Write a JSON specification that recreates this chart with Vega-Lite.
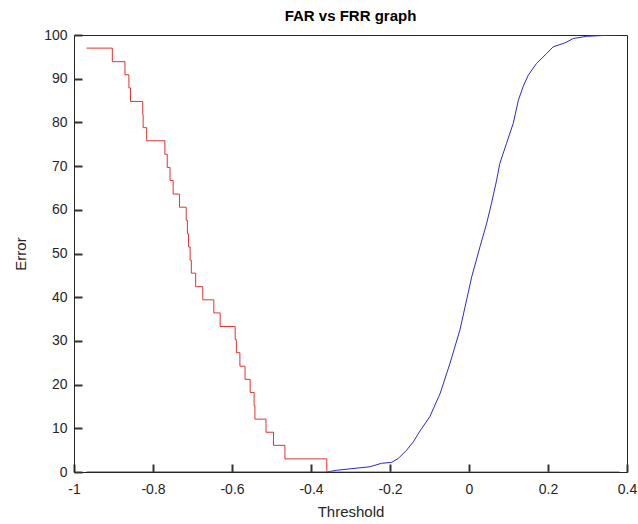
{
  "$schema": "https://vega.github.io/schema/vega-lite/v6.json",
  "width": 553,
  "height": 437,
  "autosize": {"type": "none"},
  "padding": {"left": 74, "top": 35, "right": 11, "bottom": 52},
  "background": "white",
  "config": {
    "font": "Liberation Sans",
    "view": {"stroke": "#262626", "strokeWidth": 1},
    "axis": {"grid": false, "domainColor": "#262626", "labelColor": "#262626", "titleColor": "#262626", "labelFont": "Liberation Sans", "titleFont": "Liberation Sans", "labelFontSize": 14, "titleFontSize": 15, "titleFontWeight": "normal"}
  },
  "title": {"text": "FAR vs FRR graph", "fontSize": 15, "fontWeight": "bold", "font": "Liberation Sans", "color": "#000000", "offset": 4},
  "data": {"values": [
    {"t": -0.968, "v": 97.0, "s": "FRR"},
    {"t": -0.903, "v": 93.9, "s": "FRR"},
    {"t": -0.871, "v": 90.9, "s": "FRR"},
    {"t": -0.861, "v": 87.9, "s": "FRR"},
    {"t": -0.857, "v": 84.8, "s": "FRR"},
    {"t": -0.826, "v": 81.8, "s": "FRR"},
    {"t": -0.825, "v": 78.8, "s": "FRR"},
    {"t": -0.816, "v": 75.8, "s": "FRR"},
    {"t": -0.770, "v": 72.7, "s": "FRR"},
    {"t": -0.764, "v": 69.7, "s": "FRR"},
    {"t": -0.757, "v": 66.7, "s": "FRR"},
    {"t": -0.749, "v": 63.6, "s": "FRR"},
    {"t": -0.733, "v": 60.6, "s": "FRR"},
    {"t": -0.716, "v": 57.6, "s": "FRR"},
    {"t": -0.713, "v": 54.5, "s": "FRR"},
    {"t": -0.710, "v": 51.5, "s": "FRR"},
    {"t": -0.706, "v": 48.5, "s": "FRR"},
    {"t": -0.703, "v": 45.5, "s": "FRR"},
    {"t": -0.692, "v": 42.4, "s": "FRR"},
    {"t": -0.674, "v": 39.4, "s": "FRR"},
    {"t": -0.646, "v": 36.4, "s": "FRR"},
    {"t": -0.630, "v": 33.3, "s": "FRR"},
    {"t": -0.592, "v": 30.3, "s": "FRR"},
    {"t": -0.589, "v": 27.3, "s": "FRR"},
    {"t": -0.580, "v": 24.2, "s": "FRR"},
    {"t": -0.567, "v": 21.2, "s": "FRR"},
    {"t": -0.554, "v": 18.2, "s": "FRR"},
    {"t": -0.544, "v": 15.2, "s": "FRR"},
    {"t": -0.542, "v": 12.1, "s": "FRR"},
    {"t": -0.514, "v": 9.1, "s": "FRR"},
    {"t": -0.495, "v": 6.1, "s": "FRR"},
    {"t": -0.466, "v": 3.0, "s": "FRR"},
    {"t": -0.360, "v": 0, "s": "FRR"},
    {"t": 0.381, "v": 0, "s": "FRR"},
    {"t": -0.968, "v": 0, "s": "FAR"},
    {"t": -0.360, "v": 0, "s": "FAR"},
    {"t": -0.335, "v": 0.4, "s": "FAR"},
    {"t": -0.251, "v": 1.2, "s": "FAR"},
    {"t": -0.221, "v": 2.0, "s": "FAR"},
    {"t": -0.196, "v": 2.2, "s": "FAR"},
    {"t": -0.179, "v": 3.1, "s": "FAR"},
    {"t": -0.158, "v": 5.0, "s": "FAR"},
    {"t": -0.141, "v": 6.9, "s": "FAR"},
    {"t": -0.124, "v": 9.4, "s": "FAR"},
    {"t": -0.099, "v": 12.7, "s": "FAR"},
    {"t": -0.073, "v": 18.0, "s": "FAR"},
    {"t": -0.048, "v": 24.9, "s": "FAR"},
    {"t": -0.023, "v": 32.5, "s": "FAR"},
    {"t": -0.006, "v": 39.4, "s": "FAR"},
    {"t": 0.007, "v": 44.7, "s": "FAR"},
    {"t": 0.028, "v": 51.6, "s": "FAR"},
    {"t": 0.045, "v": 57.0, "s": "FAR"},
    {"t": 0.057, "v": 61.5, "s": "FAR"},
    {"t": 0.070, "v": 66.8, "s": "FAR"},
    {"t": 0.078, "v": 70.6, "s": "FAR"},
    {"t": 0.095, "v": 75.2, "s": "FAR"},
    {"t": 0.112, "v": 79.8, "s": "FAR"},
    {"t": 0.125, "v": 85.1, "s": "FAR"},
    {"t": 0.137, "v": 88.2, "s": "FAR"},
    {"t": 0.150, "v": 90.8, "s": "FAR"},
    {"t": 0.171, "v": 93.5, "s": "FAR"},
    {"t": 0.197, "v": 95.8, "s": "FAR"},
    {"t": 0.213, "v": 97.3, "s": "FAR"},
    {"t": 0.243, "v": 98.2, "s": "FAR"},
    {"t": 0.264, "v": 99.2, "s": "FAR"},
    {"t": 0.298, "v": 99.7, "s": "FAR"},
    {"t": 0.365, "v": 100, "s": "FAR"},
    {"t": 0.381, "v": 100, "s": "FAR"}
  ]},
  "encoding": {
    "x": {"field": "t", "type": "quantitative", "scale": {"domain": [-1, 0.4], "nice": false, "zero": false}, "title": "Threshold",
      "axis": {"tickCount": 7, "format": "~g", "labelExpr": "replace(datum.label, '\u2212', '-')", "ticks": true, "tickSize": -8, "tickColor": "#333333", "tickWidth": 2, "labelPadding": 18, "titlePadding": 8, "labelFlush": false}},
    "y": {"field": "v", "type": "quantitative", "scale": {"domain": [0, 100], "nice": false}, "title": "Error",
      "axis": {"tickCount": 10, "ticks": true, "tickSize": -8, "tickColor": "#333333", "tickWidth": 2, "labelPadding": 15, "titlePadding": 15}}
  },
  "layer": [
    {
      "transform": [{"filter": "datum.s === 'FAR'"}],
      "mark": {"type": "line", "strokeWidth": 1, "color": "#2a2acb", "clip": true}
    },
    {
      "transform": [{"filter": "datum.s === 'FRR'"}],
      "mark": {"type": "line", "strokeWidth": 1, "color": "#e03333", "interpolate": "step-after", "clip": true}
    }
  ]
}
